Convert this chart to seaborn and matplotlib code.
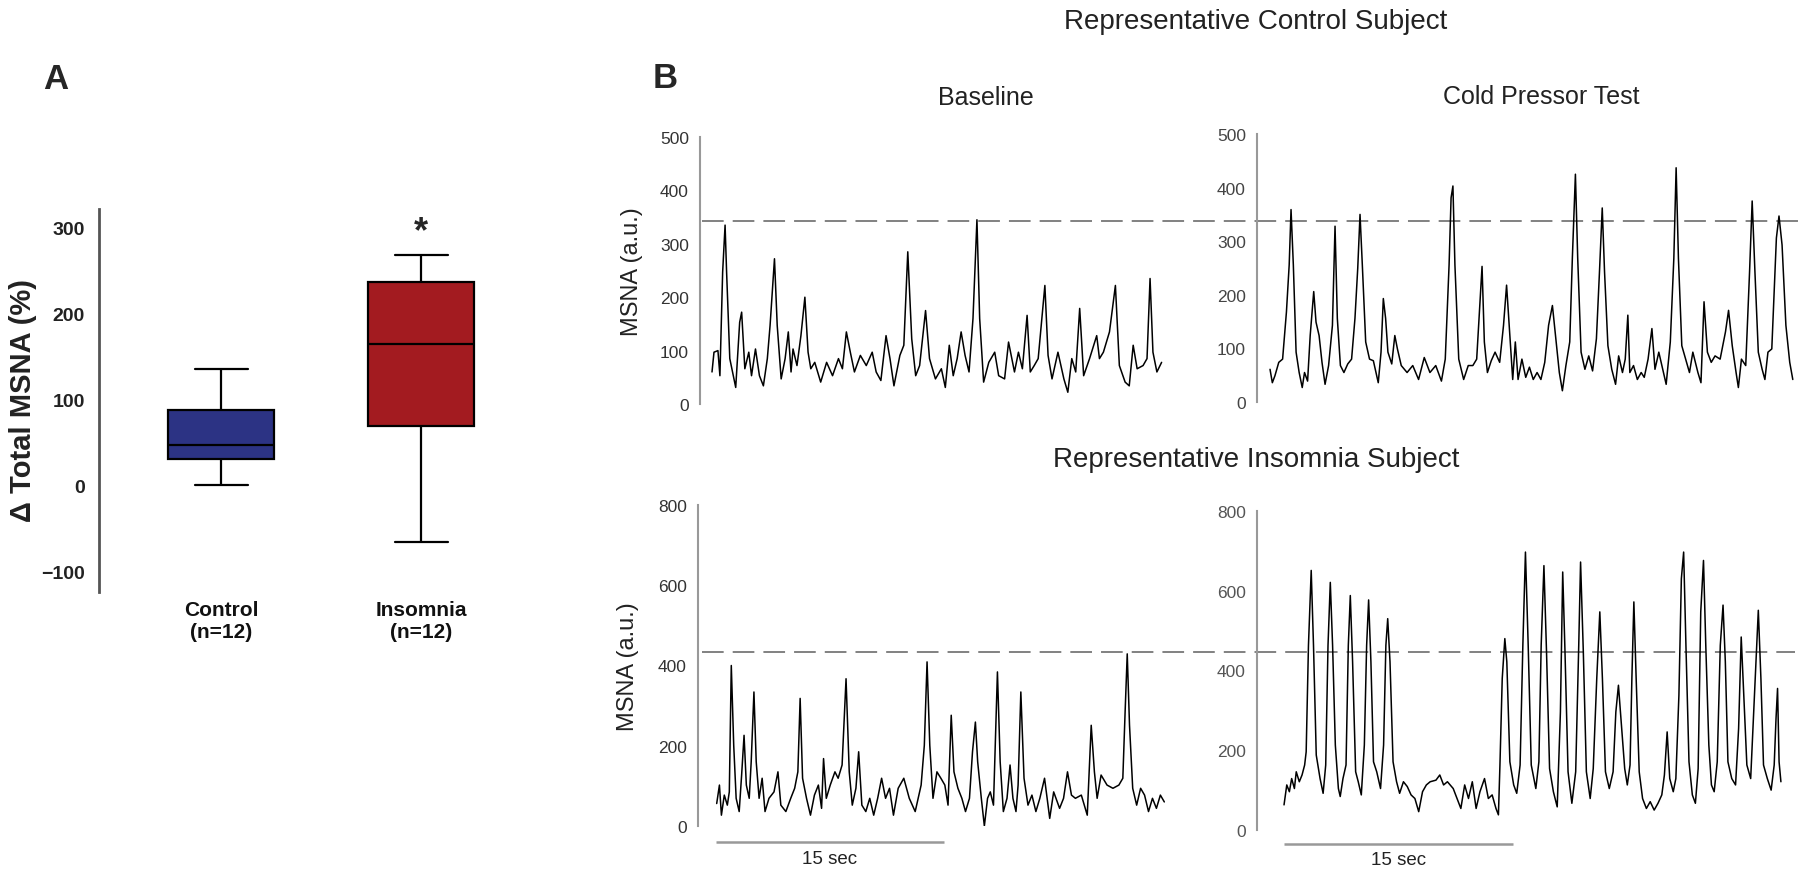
import matplotlib
matplotlib.use("Agg")
import matplotlib.pyplot as plt
import pandas as pd
import seaborn as sns

# ---- panel A: five-number summaries ----
groups = ['Control', 'Insomnia']
group_labels = ['Control\n(n=12)', 'Insomnia\n(n=12)']
control_summary = [0, 30, 47, 88, 135]      # min, q1, median, q3, max
insomnia_summary = [-66, 69, 164, 236, 267]
box_colors = ['#2c3384', '#a31b20']
star_y = 295

# ---- panel B: MSNA traces, (time s, a.u.) ----
ctrl_base = [(0.00, 60), (0.13, 97), (0.39, 100), (0.52, 53), (0.70, 247), (0.86, 335), (0.96, 247), (1.17, 85),
             (1.56, 31), (1.82, 153), (1.95, 172), (2.16, 66), (2.42, 97), (2.60, 53), (2.86, 103), (3.12, 53),
             (3.38, 34), (3.64, 85), (3.82, 147), (4.11, 272), (4.29, 147), (4.55, 47), (4.81, 85), (5.02, 135),
             (5.20, 60), (5.33, 103), (5.59, 72), (5.85, 128), (6.11, 200), (6.32, 97), (6.50, 66), (6.76, 78),
             (7.15, 41), (7.54, 78), (7.93, 53), (8.32, 85), (8.58, 66), (8.84, 135), (9.10, 97), (9.37, 60),
             (9.76, 91), (10.15, 72), (10.54, 97), (10.80, 60), (11.11, 44), (11.45, 128), (11.71, 85), (11.97, 34),
             (12.36, 91), (12.62, 110), (12.88, 285), (13.14, 122), (13.40, 53), (13.66, 72), (14.05, 175), (14.31, 85),
             (14.70, 47), (15.09, 66), (15.35, 31), (15.61, 110), (15.87, 53), (16.13, 85), (16.39, 135), (16.65, 91),
             (16.91, 60), (17.17, 160), (17.43, 345), (17.61, 160), (17.87, 41), (18.21, 78), (18.60, 97), (18.86, 53),
             (19.25, 47), (19.51, 116), (19.90, 60), (20.16, 97), (20.42, 66), (20.73, 166), (20.94, 60), (21.20, 72),
             (21.46, 85), (21.90, 222), (22.11, 91), (22.37, 47), (22.76, 97), (23.15, 47), (23.41, 22), (23.67, 85),
             (23.93, 60), (24.19, 179), (24.45, 53), (24.84, 85), (25.31, 128), (25.49, 85), (25.75, 97), (26.15, 135),
             (26.54, 222), (26.80, 72), (27.18, 41), (27.45, 34), (27.71, 110), (27.97, 66), (28.36, 72), (28.62, 85),
             (28.82, 235), (29.01, 97), (29.27, 60), (29.58, 78)]

ctrl_cpt = [(0.00, 61), (0.15, 36), (0.32, 49), (0.57, 74), (0.82, 80), (1.07, 168), (1.25, 256), (1.37, 359),
            (1.52, 256), (1.70, 93), (1.90, 55), (2.10, 27), (2.25, 55), (2.45, 39), (2.62, 124), (2.85, 206),
            (3.00, 149), (3.20, 124), (3.39, 74), (3.59, 33), (3.82, 68), (4.07, 143), (4.24, 328), (4.39, 156),
            (4.59, 68), (4.82, 55), (5.07, 71), (5.32, 80), (5.54, 156), (5.72, 249), (5.87, 350), (6.02, 256),
            (6.24, 112), (6.49, 80), (6.74, 77), (7.06, 36), (7.24, 93), (7.39, 193), (7.54, 156), (7.69, 93),
            (7.94, 71), (8.14, 124), (8.31, 99), (8.56, 68), (8.94, 55), (9.31, 68), (9.69, 42), (10.06, 83),
            (10.43, 55), (10.81, 68), (11.18, 39), (11.43, 80), (11.68, 256), (11.81, 381), (11.93, 403), (12.06, 256),
            (12.31, 80), (12.63, 42), (12.93, 68), (13.23, 68), (13.48, 80), (13.68, 180), (13.83, 253), (13.98, 112),
            (14.18, 55), (14.43, 77), (14.68, 93), (14.98, 74), (15.23, 143), (15.43, 218), (15.63, 131), (15.83, 42),
            (16.00, 112), (16.18, 42), (16.43, 80), (16.68, 46), (16.92, 65), (17.17, 42), (17.42, 55), (17.67, 42),
            (17.92, 74), (18.17, 143), (18.42, 180), (18.62, 124), (18.87, 55), (19.07, 21), (19.30, 68), (19.55, 112),
            (19.72, 268), (19.92, 425), (20.07, 268), (20.29, 93), (20.54, 61), (20.79, 86), (21.04, 58), (21.29, 118),
            (21.49, 243), (21.67, 362), (21.82, 243), (22.04, 105), (22.29, 61), (22.54, 33), (22.74, 86), (22.99, 55),
            (23.17, 80), (23.34, 162), (23.47, 55), (23.71, 68), (23.96, 42), (24.21, 55), (24.41, 46), (24.66, 80),
            (24.91, 137), (25.11, 61), (25.36, 93), (25.66, 55), (25.84, 33), (26.11, 112), (26.34, 268), (26.49, 437),
            (26.64, 268), (26.86, 105), (27.11, 80), (27.36, 55), (27.58, 93), (27.91, 55), (28.11, 36), (28.31, 187),
            (28.53, 93), (28.78, 74), (29.03, 86), (29.36, 80), (29.71, 131), (29.91, 171), (30.15, 105), (30.40, 55),
            (30.55, 27), (30.75, 80), (31.03, 68), (31.28, 243), (31.45, 375), (31.63, 243), (31.85, 93), (32.10, 61),
            (32.28, 42), (32.48, 93), (32.73, 99), (33.03, 306), (33.20, 347), (33.40, 293), (33.65, 143), (33.90, 74),
            (34.10, 42)]

ins_base = [(0.05, 56), (0.23, 102), (0.36, 27), (0.55, 77), (0.75, 52), (0.88, 85), (1.01, 400), (1.17, 201),
            (1.33, 69), (1.53, 36), (1.69, 127), (1.85, 226), (2.00, 102), (2.19, 69), (2.32, 160), (2.50, 334),
            (2.65, 160), (2.84, 69), (3.04, 119), (3.23, 36), (3.49, 69), (3.82, 85), (4.08, 135), (4.27, 52),
            (4.60, 36), (4.92, 69), (5.18, 94), (5.39, 135), (5.54, 318), (5.70, 119), (5.96, 69), (6.22, 27),
            (6.48, 77), (6.74, 102), (6.95, 44), (7.08, 168), (7.26, 69), (7.52, 102), (7.83, 135), (8.04, 119),
            (8.30, 152), (8.56, 367), (8.77, 135), (8.97, 52), (9.21, 94), (9.39, 185), (9.60, 52), (9.86, 36),
            (10.12, 69), (10.38, 27), (10.64, 69), (10.90, 119), (11.16, 69), (11.42, 94), (11.68, 27), (11.99, 94),
            (12.36, 119), (12.72, 69), (13.11, 36), (13.50, 102), (13.71, 201), (13.89, 409), (14.07, 201), (14.28, 69),
            (14.54, 135), (14.80, 119), (15.06, 102), (15.27, 52), (15.48, 276), (15.66, 135), (15.92, 94), (16.18, 69),
            (16.42, 36), (16.68, 69), (16.88, 185), (17.07, 259), (17.22, 160), (17.46, 69), (17.66, 0), (17.87, 69),
            (18.05, 85), (18.26, 52), (18.52, 384), (18.70, 160), (18.91, 36), (19.15, 69), (19.35, 152), (19.54, 69),
            (19.74, 36), (19.88, 102), (20.06, 334), (20.27, 119), (20.53, 52), (20.79, 77), (21.05, 36), (21.31, 69),
            (21.62, 119), (21.96, 19), (22.22, 85), (22.61, 44), (22.87, 69), (23.13, 135), (23.39, 77), (23.65, 69),
            (24.04, 77), (24.43, 27), (24.69, 251), (24.90, 135), (25.08, 69), (25.34, 127), (25.73, 102), (26.12, 94),
            (26.51, 102), (26.77, 119), (26.92, 284), (27.06, 429), (27.21, 251), (27.42, 94), (27.68, 52), (27.94, 94),
            (28.20, 77), (28.46, 36), (28.72, 69), (28.98, 44), (29.24, 77), (29.50, 60)]

ins_cpt = [(0.00, 63), (0.18, 113), (0.35, 96), (0.50, 129), (0.68, 104), (0.80, 146), (1.00, 121), (1.18, 138),
           (1.35, 163), (1.45, 196), (1.60, 463), (1.78, 651), (1.93, 463), (2.11, 188), (2.36, 129), (2.56, 92),
           (2.73, 163), (2.88, 463), (3.03, 621), (3.18, 463), (3.36, 213), (3.56, 104), (3.68, 84), (3.86, 129),
           (4.06, 163), (4.21, 463), (4.34, 588), (4.49, 422), (4.69, 146), (4.86, 121), (5.06, 88), (5.26, 213),
           (5.41, 463), (5.54, 577), (5.69, 422), (5.86, 171), (6.07, 146), (6.32, 104), (6.52, 213), (6.67, 463),
           (6.79, 530), (6.94, 422), (7.14, 171), (7.37, 121), (7.57, 92), (7.82, 121), (8.07, 109), (8.32, 88),
           (8.57, 79), (8.82, 46), (9.07, 96), (9.32, 113), (9.57, 121), (9.95, 125), (10.20, 138), (10.45, 113),
           (10.70, 121), (11.08, 104), (11.33, 79), (11.58, 54), (11.83, 113), (12.08, 79), (12.33, 121), (12.58, 54),
           (12.83, 96), (13.13, 129), (13.38, 79), (13.63, 88), (13.88, 54), (14.04, 38), (14.14, 163), (14.29, 380),
           (14.46, 480), (14.59, 422), (14.79, 171), (15.04, 113), (15.24, 92), (15.46, 163), (15.64, 463), (15.81, 697),
           (15.99, 463), (16.19, 163), (16.49, 104), (16.69, 171), (16.84, 463), (17.02, 663), (17.19, 447), (17.39, 154),
           (17.64, 96), (17.89, 58), (18.10, 296), (18.25, 647), (18.40, 447), (18.60, 146), (18.85, 67), (19.10, 146),
           (19.30, 463), (19.42, 672), (19.60, 447), (19.80, 146), (20.05, 79), (20.25, 154), (20.48, 380), (20.68, 547),
           (20.85, 380), (21.05, 146), (21.30, 104), (21.55, 146), (21.73, 296), (21.90, 363), (22.11, 255), (22.31, 154),
           (22.48, 113), (22.66, 163), (22.78, 380), (22.91, 572), (23.06, 380), (23.26, 146), (23.48, 79), (23.73, 54),
           (23.98, 71), (24.24, 50), (24.49, 67), (24.74, 88), (24.91, 138), (25.09, 246), (25.26, 129), (25.49, 96),
           (25.66, 129), (25.86, 338), (26.02, 630), (26.17, 697), (26.32, 463), (26.52, 171), (26.74, 88), (26.94, 67),
           (27.12, 154), (27.29, 547), (27.47, 676), (27.62, 463), (27.82, 213), (27.99, 113), (28.17, 96), (28.37, 171),
           (28.57, 463), (28.75, 564), (28.90, 422), (29.07, 171), (29.32, 129), (29.57, 113), (29.77, 255), (29.94, 484),
           (30.11, 338), (30.31, 163), (30.56, 129), (30.86, 380), (31.06, 551), (31.23, 380), (31.40, 163), (31.65, 129),
           (31.90, 100), (32.10, 163), (32.22, 280), (32.32, 355), (32.42, 171), (32.54, 121)]

thresholds = [343, 434]   # dashed reference level, control row / insomnia row
scale_bar_sec = 15

sns.set_style("white")
plt.rcParams['font.family'] = ['Liberation Sans', 'DejaVu Sans']

W, H = 1800, 879
fig = plt.figure(figsize=(18, 8.79), dpi=100)


def px_axes(left, top, right, bottom):
    return fig.add_axes([left / W, 1 - bottom / H, (right - left) / W, (bottom - top) / H])


# ------------------------------ panel A ------------------------------
axA = px_axes(99, 210, 541, 593)
box_df = pd.DataFrame({'group': [g for g in groups for _ in range(5)],
                       'value': control_summary + insomnia_summary})
sns.boxplot(data=box_df, x='group', y='value', hue='group', palette=box_colors, saturation=1, width=0.53,
            whis=(0, 100), linecolor='black', linewidth=1.6, legend=False, ax=axA)
axA.set_xlim(-0.61, 1.6)
axA.set_ylim(-124, 321)
axA.set_yticks([-100, 0, 100, 200, 300])
axA.set_xticks([0, 1], labels=group_labels)
sns.despine(ax=axA, bottom=True)
axA.spines['left'].set_color('#555555')
axA.spines['left'].set_linewidth(2)
axA.tick_params(axis='y', length=9, width=1.8, color='#555555', pad=1, labelsize=14, labelcolor='#222222')
axA.tick_params(axis='x', length=0, pad=6, labelsize=15, labelcolor='#111111')
for lab in axA.get_yticklabels() + axA.get_xticklabels():
    lab.set_fontweight('bold')
axA.set_xlabel('')
axA.set_ylabel('')
axA.text(1, star_y, '*', ha='center', va='center', fontsize=26, fontweight='bold')
fig.text(23 / W, 1 - 400 / H, 'Δ Total MSNA (%)', rotation=90, ha='center', va='center',
         fontsize=21, fontweight='bold', color='#222222')
fig.text(43 / W, 1 - 89 / H, 'A', fontsize=25, fontweight='bold', va='baseline')
fig.text(653 / W, 1 - 88 / H, 'B', fontsize=25, fontweight='bold', va='baseline')


# ------------------------------ panel B ------------------------------
def trace_axes(box, trace, ylim, yticks, xlim, labelcolor):
    ax = px_axes(*box)
    t, v = zip(*trace)
    sns.lineplot(x=list(t), y=list(v), ax=ax, color='black', linewidth=1.1, estimator=None, sort=False)
    ax.set_xlim(*xlim)
    ax.set_ylim(*ylim)
    ax.set_yticks(yticks)
    ax.set_xticks([])
    sns.despine(ax=ax, bottom=True)
    ax.spines['left'].set_color('#999999')
    ax.spines['left'].set_linewidth(1.5)
    ax.tick_params(axis='y', length=5, width=1.2, color='#999999', pad=3, labelsize=12.5, labelcolor=labelcolor)
    ax.patch.set_visible(False)
    return ax


ax_cb = trace_axes((700, 138, 1180, 405), ctrl_base, (0, 500), range(0, 501, 100), (-0.79, 30.79), '#333333')
ax_cc = trace_axes((1257, 135, 1800, 403), ctrl_cpt, (0, 500), range(0, 501, 100), (-0.85, 34.57), '#444444')
ax_ib = trace_axes((698, 506, 1178, 827), ins_base, (0, 800), range(0, 801, 200), (-1.18, 30.4), '#333333')
ax_ic = trace_axes((1257, 512, 1800, 831), ins_cpt, (0, 800), range(0, 801, 200), (-1.77, 33.79), '#555555')

# dashed level runs across both panels of a row
ax_cb.axhline(thresholds[0], xmin=0.004, xmax=2.29, color='#777777', lw=1.3, ls=(0, (12, 5)), clip_on=False)
ax_ib.axhline(thresholds[1], xmin=0.008, xmax=2.285, color='#777777', lw=1.3, ls=(0, (12, 5)), clip_on=False)

# 15 s scale bars
for ax, bar_y, txt_y in [(ax_ib, -40, -82), (ax_ic, -35, -73)]:
    ax.plot([0, scale_bar_sec], [bar_y, bar_y], color='#999999', lw=1.8, clip_on=False, solid_capstyle='butt')
    ax.text(scale_bar_sec / 2, txt_y, f'{scale_bar_sec} sec', ha='center', va='center', fontsize=13.5,
            color='#222222', clip_on=False)

fig.text(632 / W, 1 - 272 / H, 'MSNA (a.u.)', rotation=90, ha='center', va='center', fontsize=17, color='#222222')
fig.text(628 / W, 1 - 667 / H, 'MSNA (a.u.)', rotation=90, ha='center', va='center', fontsize=17, color='#222222')

fig.text(1256 / W, 1 - 22 / H, 'Representative Control Subject', ha='center', va='center', fontsize=20, color='#222222')
fig.text(1256 / W, 1 - 460 / H, 'Representative Insomnia Subject', ha='center', va='center', fontsize=20, color='#222222')
fig.text(986 / W, 1 - 98 / H, 'Baseline', ha='center', va='center', fontsize=18, color='#222222')
fig.text(1541 / W, 1 - 97 / H, 'Cold Pressor Test', ha='center', va='center', fontsize=18, color='#222222')

fig.savefig('out.png', dpi=100)
